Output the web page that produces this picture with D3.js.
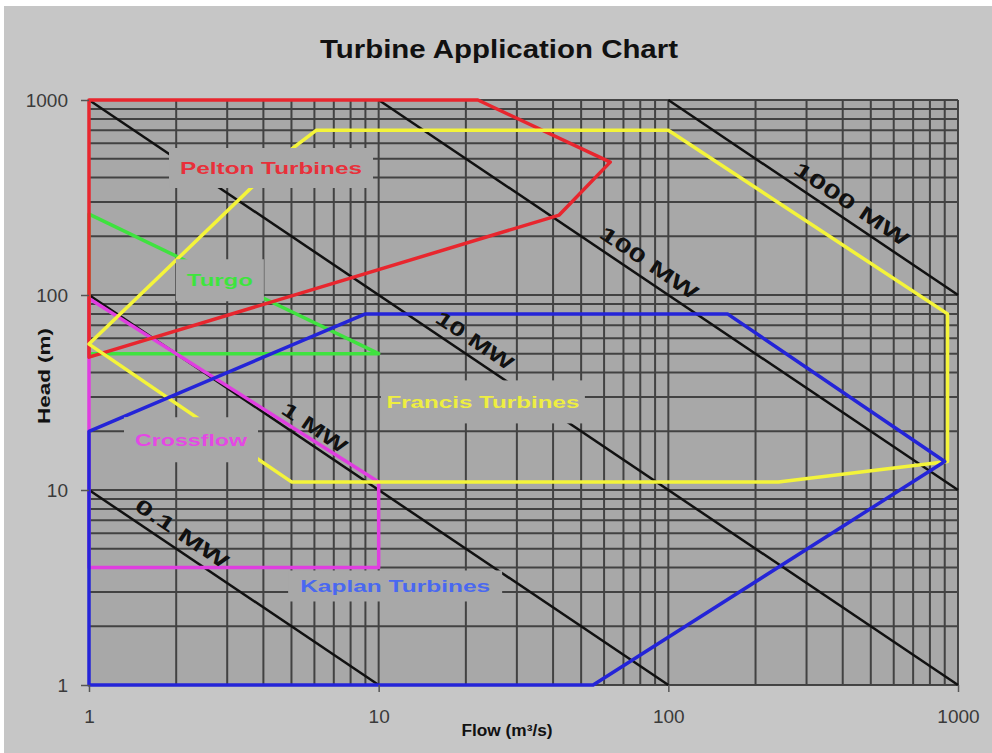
<!DOCTYPE html>
<html>
<head>
<meta charset="utf-8">
<script src="https://cdn.jsdelivr.net/npm/d3@7"></script>
<style>
  body { margin: 0; background: #ffffff; }
  svg { display: block; }
</style>
</head>
<body>
<svg width="992" height="753"></svg>
<script>
// axis ticks
var flowTicks = [1, 10, 100, 1000];
var headTicks = [1, 10, 100, 1000];

// turbine envelopes, [flow m3/s, head m]
var pelton = [[1, 1000], [22, 1000], [63, 480], [42, 257], [1, 48]];
var turgo = [[1, 260], [10, 50], [1, 50]];
var francis = [[1, 56], [5, 560], [6.1, 700], [100, 700], [920, 80], [920, 14], [240, 11], [5, 11]];
var crossflow = [[1, 96], [10, 11], [10, 4], [1, 4]];
var kaplan = [[1, 1], [1, 20], [9, 80], [160, 80], [900, 14], [55, 1]];

var zoneNames = ["Pelton Turbines", "Turgo", "Francis Turbines", "Crossflow", "Kaplan Turbines"];

// constant power lines (MW)
var powerMW = [0.1, 1, 10, 100, 1000];
var powerNames = ["0.1 MW", "1 MW", "10 MW", "100 MW", "1000 MW"];

// ---- layout / style ----
var svg = d3.select("svg");
var plotL = 89, plotR = 958, plotT = 100, plotB = 685;

var x = d3.scaleLog().domain([1, 1000]).range([plotL, plotR]);
var y = d3.scaleLog().domain([1, 1000]).range([plotB, plotT]);

svg.append("rect")
    .attr("x", 4).attr("y", 6)
    .attr("width", 988).attr("height", 747)
    .attr("fill", "#c6c6c6");

svg.append("rect")
    .attr("x", plotL).attr("y", plotT)
    .attr("width", plotR - plotL).attr("height", plotB - plotT)
    .attr("fill", "#a8a8a8");

// log grid
var grid = svg.append("g").attr("stroke", "#383838").attr("stroke-width", 2).attr("opacity", 0.9);
grid.selectAll(".gx")
    .data(x.ticks())
    .enter()
    .append("line")
    .attr("x1", function (d) { return x(d); })
    .attr("x2", function (d) { return x(d); })
    .attr("y1", plotT)
    .attr("y2", plotB);
grid.selectAll(".gy")
    .data(y.ticks())
    .enter()
    .append("line")
    .attr("y1", function (d) { return y(d); })
    .attr("y2", function (d) { return y(d); })
    .attr("x1", plotL)
    .attr("x2", plotR);

// power lines: flow * head = 100 * MW
function powerEnds(mw) {
    var qh = mw * 100;
    var q1 = Math.max(1, qh / 1000), q2 = Math.min(1000, qh);
    return [[q1, qh / q1], [q2, qh / q2]];
}

var line = d3.line()
    .x(function (d) { return x(d[0]); })
    .y(function (d) { return y(d[1]); });

svg.append("g")
    .selectAll("path")
    .data(powerMW)
    .enter()
    .append("path")
    .attr("d", function (d) { return line(powerEnds(d)); })
    .attr("fill", "none")
    .attr("stroke", "#111")
    .attr("stroke-width", 2.5);

// envelopes
var zones = [
    { pts: turgo, color: "#3fe23f" },
    { pts: crossflow, color: "#e03ee0" },
    { pts: pelton, color: "#e8262e" },
    { pts: francis, color: "#f4f43a" },
    { pts: kaplan, color: "#2424d8" }
];

svg.append("g")
    .selectAll("path")
    .data(zones)
    .enter()
    .append("path")
    .attr("d", function (d) { return line(d.pts) + "Z"; })
    .attr("fill", "none")
    .attr("stroke", function (d) { return d.color; })
    .attr("stroke-width", 3.5)
    .attr("stroke-linejoin", "round");

// zone labels, opaque boxes like the original text boxes
var zoneLabel = [
    { at: [4.25, 448], w: 204, h: 40, tl: 182, color: "#e8303a" },
    { at: [2.83, 119], w: 88, h: 42, tl: 66, color: "#3ee43e" },
    { at: [22.9, 28.3], w: 204, h: 43, tl: 193, color: "#eeee40" },
    { at: [2.25, 18.1], w: 134, h: 45, tl: 112, color: "#e448e4" },
    { at: [11.4, 3.22], w: 214, h: 31, tl: 190, color: "#4a68f0" }
];

var zl = svg.append("g")
    .selectAll("g")
    .data(zoneLabel)
    .enter()
    .append("g")
    .attr("transform", function (d) {
        return "translate(" + x(d.at[0]) + "," + y(d.at[1]) + ")";
    });
zl.append("rect")
    .attr("x", function (d) { return -d.w / 2; })
    .attr("y", function (d) { return -d.h / 2; })
    .attr("width", function (d) { return d.w; })
    .attr("height", function (d) { return d.h; })
    .attr("fill", "#a8a8a8");
zl.append("text")
    .attr("text-anchor", "middle")
    .attr("dy", "0.36em")
    .attr("textLength", function (d) { return d.tl; })
    .attr("lengthAdjust", "spacingAndGlyphs")
    .style("font", "bold 17px 'Liberation Sans', Arial, sans-serif")
    .attr("fill", function (d) { return d.color; })
    .text(function (d, i) { return zoneNames[i]; });

// power labels along the lines
var powerLabelFlow = [1.95, 5.6, 20, 80, 400];
var powerLabelLen = [108, 74, 89, 114, 134];
var angle = Math.atan2(y(1) - y(10), x(10) - x(1)) * 180 / Math.PI;

svg.append("g")
    .selectAll("text")
    .data(powerMW)
    .enter()
    .append("text")
    .attr("transform", function (d, i) {
        var q = powerLabelFlow[i];
        return "translate(" + x(q) + "," + y(d * 100 / q) + ") rotate(" + angle + ")";
    })
    .attr("y", -9)
    .attr("text-anchor", "middle")
    .attr("textLength", function (d, i) { return powerLabelLen[i]; })
    .attr("lengthAdjust", "spacingAndGlyphs")
    .style("font", "bold 20px 'Liberation Sans', Arial, sans-serif")
    .attr("fill", "#111")
    .text(function (d, i) { return powerNames[i]; });

// axes
var yAxis = svg.append("g")
    .attr("transform", "translate(" + plotL + ",0)")
    .call(d3.axisLeft(y).tickValues(headTicks).tickFormat(d3.format("d")).tickSize(8).tickPadding(13));
var xAxis = svg.append("g")
    .attr("transform", "translate(0," + plotB + ")")
    .call(d3.axisBottom(x).tickValues(flowTicks).tickFormat(d3.format("d")).tickSize(7).tickPadding(18));
[yAxis, xAxis].forEach(function (a) {
    a.select(".domain").remove();
    a.selectAll("line").attr("stroke", "#555").attr("stroke-width", 1.5);
    a.selectAll("text")
        .style("font", "19px 'Liberation Sans', Arial, sans-serif")
        .attr("fill", "#3a3a3a");
});

// titles
svg.append("text")
    .attr("x", 499).attr("y", 58)
    .attr("text-anchor", "middle")
    .attr("textLength", 358)
    .attr("lengthAdjust", "spacingAndGlyphs")
    .style("font", "bold 26px 'Liberation Sans', Arial, sans-serif")
    .attr("fill", "#111")
    .text("Turbine Application Chart");

svg.append("text")
    .attr("x", 507).attr("y", 736)
    .attr("text-anchor", "middle")
    .attr("textLength", 91)
    .attr("lengthAdjust", "spacingAndGlyphs")
    .style("font", "bold 16px 'Liberation Sans', Arial, sans-serif")
    .attr("fill", "#111")
    .text("Flow (m³/s)");

svg.append("text")
    .attr("transform", "translate(50,376) rotate(-90)")
    .attr("text-anchor", "middle")
    .attr("textLength", 96)
    .attr("lengthAdjust", "spacingAndGlyphs")
    .style("font", "bold 16px 'Liberation Sans', Arial, sans-serif")
    .attr("fill", "#111")
    .text("Head (m)");
</script>
</body>
</html>
